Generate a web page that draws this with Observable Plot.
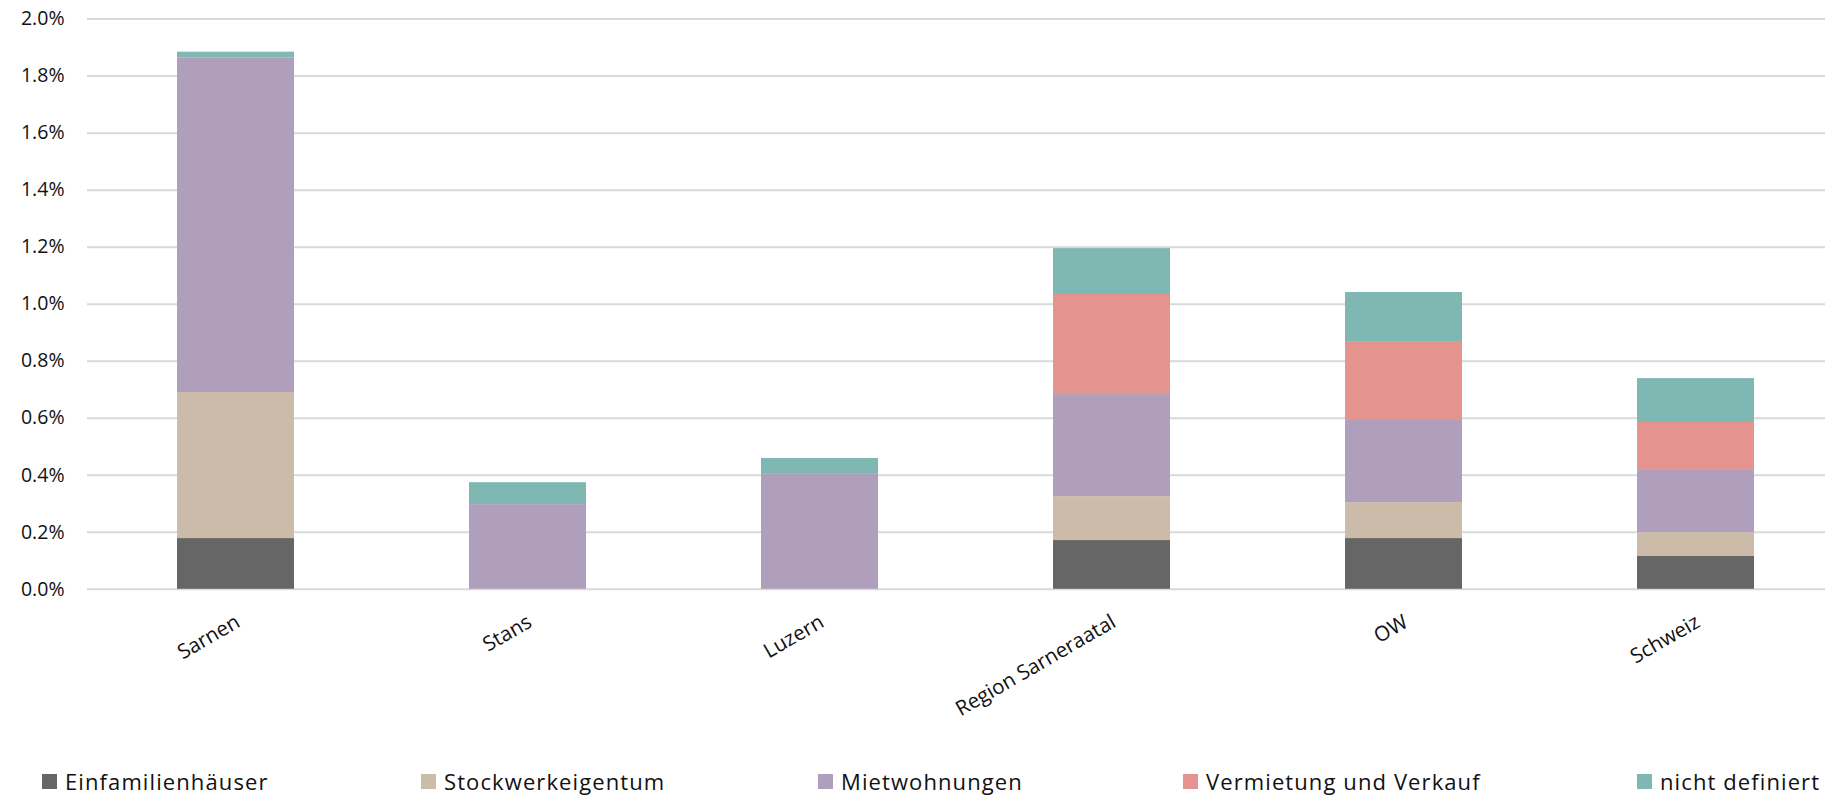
<!DOCTYPE html>
<html>
<head>
<meta charset="utf-8">
<script src="https://cdn.jsdelivr.net/npm/d3@7"></script>
<script src="https://cdn.jsdelivr.net/npm/@observablehq/plot@0.6"></script>
<style>
  html, body { margin: 0; padding: 0; background: #fff; }
  #wrap { position: relative; width: 1825px; height: 799px; overflow: hidden; font-family: "Open Sans", sans-serif; }
  #legend { position: absolute; left: 0; top: 766px; width: 1825px; height: 30px; }
  .item { position: absolute; top: 0; display: flex; align-items: center; height: 30px; font-size: 22px; color: #111; letter-spacing: 1.1px; white-space: nowrap; }
  .sw { width: 15px; height: 15px; margin-right: 8px; flex: none; }
</style>
</head>
<body>
<div id="wrap">
  <div id="chart"></div>
  <div id="legend"></div>
</div>
<script>
const categories = ["Sarnen", "Stans", "Luzern", "Region Sarneraatal", "OW", "Schweiz"];
const seriesNames = ["Einfamilienhäuser", "Stockwerkeigentum", "Mietwohnungen", "Vermietung und Verkauf", "nicht definiert"];
const seriesColors = ["#666666", "#ccbba9", "#b09fbc", "#e4938f", "#7fb8b3"];
// values in percent
const einfamilienhaeuser = [0.178, 0, 0, 0.171, 0.178, 0.115];
const stockwerkeigentum = [0.512, 0, 0, 0.154, 0.126, 0.084];
const mietwohnungen = [1.173, 0.297, 0.403, 0.358, 0.288, 0.218];
const vermietungVerkauf = [0, 0, 0, 0.351, 0.274, 0.168];
const nichtDefiniert = [0.021, 0.077, 0.056, 0.161, 0.175, 0.154];
const yTicks = [0, 0.2, 0.4, 0.6, 0.8, 1.0, 1.2, 1.4, 1.6, 1.8, 2.0];

const seriesValues = [einfamilienhaeuser, stockwerkeigentum, mietwohnungen, vermietungVerkauf, nichtDefiniert];
const data = [];
seriesNames.forEach((s, si) => {
  categories.forEach((c, ci) => {
    data.push({category: c, series: s, value: seriesValues[si][ci]});
  });
});

const chart = Plot.plot({
  width: 1825,
  height: 745,
  marginTop: 18.6,
  marginBottom: 156.2,
  marginLeft: 87,
  marginRight: 0,
  style: {fontFamily: "'Open Sans', sans-serif", fontSize: "19.5px", color: "#111", background: "#fff"},
  x: {domain: categories, range: [88, 1843], paddingInner: 0.6, paddingOuter: 0.3, axis: null},
  y: {domain: [0, 2.0], axis: null},
  color: {domain: seriesNames, range: seriesColors},
  marks: [
    Plot.ruleY(yTicks, {stroke: "#d9d9d9", strokeWidth: 2}),
    Plot.barY(data, {x: "category", y: "value", fill: "series", order: seriesNames, z: "series"}),
    Plot.axisY({ticks: yTicks, tickFormat: d => d.toFixed(1) + "%", tickSize: 0, tickPadding: 23, fontSize: 19.5, label: null}),
    Plot.text(categories, {x: d => d, frameAnchor: "bottom", text: d => d, rotate: -30, textAnchor: "end", lineAnchor: "middle", dx: 2, dy: 31, fontSize: 20.5, fill: "#111"})
  ]
});
document.getElementById("chart").appendChild(chart);

const legendLefts = [42, 421, 818, 1183, 1637];
const legend = document.getElementById("legend");
seriesNames.forEach((s, i) => {
  const item = document.createElement("div");
  item.className = "item";
  item.style.left = legendLefts[i] + "px";
  const sw = document.createElement("span");
  sw.className = "sw";
  sw.style.background = seriesColors[i];
  const t = document.createElement("span");
  t.textContent = s;
  item.appendChild(sw);
  item.appendChild(t);
  legend.appendChild(item);
});
</script>
</body>
</html>
